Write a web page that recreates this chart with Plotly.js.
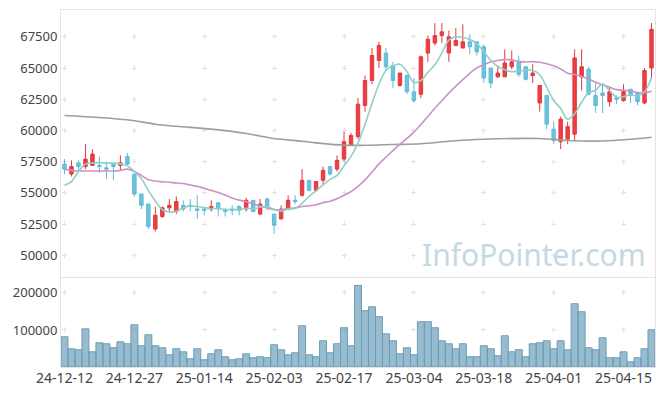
<!DOCTYPE html>
<html><head><meta charset="utf-8">
<script src="https://cdn.plot.ly/plotly-3.0.1.min.js"></script>
<style>html,body{margin:0;padding:0;background:#fff;}#chart{width:665px;height:396px;}</style>
</head><body><div id="chart"></div>
<script>
const dates = ['24-12-12','24-12-13','24-12-16','24-12-17','24-12-18','24-12-19','24-12-20','24-12-23','24-12-24','24-12-26',
'24-12-27','24-12-30','25-01-02','25-01-03','25-01-06','25-01-07','25-01-08','25-01-09','25-01-10','25-01-13',
'25-01-14','25-01-15','25-01-16','25-01-17','25-01-20','25-01-21','25-01-22','25-01-23','25-01-24','25-01-31',
'25-02-03','25-02-04','25-02-05','25-02-06','25-02-07','25-02-10','25-02-11','25-02-12','25-02-13','25-02-14',
'25-02-17','25-02-18','25-02-19','25-02-20','25-02-21','25-02-24','25-02-25','25-02-26','25-02-27','25-02-28',
'25-03-04','25-03-05','25-03-06','25-03-07','25-03-10','25-03-11','25-03-12','25-03-13','25-03-14','25-03-17',
'25-03-18','25-03-19','25-03-20','25-03-21','25-03-24','25-03-25','25-03-26','25-03-27','25-03-28','25-03-31',
'25-04-01','25-04-02','25-04-03','25-04-04','25-04-07','25-04-08','25-04-09','25-04-10','25-04-11','25-04-14',
'25-04-15','25-04-16','25-04-17','25-04-18','25-04-21'];

const openP = [57300,56500,57400,57100,57200,57200,57000,57300,57200,57900,
56500,54900,54100,52100,53100,53800,53500,54000,54000,53700,
53700,53700,54200,53600,53700,53900,53700,54400,53300,54500,
53300,52900,53700,54400,54800,56000,55200,56000,57100,56900,
57700,58800,59500,62000,64000,65600,66200,65200,63600,64400,
63100,62900,66200,67000,67600,66200,66800,66600,67100,67100,
66700,65000,64300,64300,65100,65500,65100,64400,62200,62800,
60100,59100,59300,59700,64300,64900,62800,63000,62300,62600,
62400,63300,63000,62200,65000];

const highP = [57700,57600,57600,58900,58500,57900,57500,57300,58000,58200,
56500,54900,54100,53900,53900,54500,54700,54400,54500,54800,
53900,54400,54200,53800,54000,54000,54600,54400,54500,54600,
53300,54000,54800,54800,56900,56000,55900,57100,57100,58000,
59900,59800,62600,64400,66600,67100,66600,65500,64600,64500,
64200,66000,67600,68600,68600,68000,68200,68500,67700,67100,
66900,65000,65200,66500,66400,66000,65100,65300,63600,62800,
60700,61100,60700,66500,66500,65100,63900,63800,63500,62800,
63700,63300,63000,65000,68600];

const lowP = [56500,56300,56700,56900,57200,56600,56100,56000,56800,57200,
54700,53700,52100,51900,53000,53500,53300,53500,53500,52900,
53200,53500,53100,53100,53200,53200,53500,53500,53200,53600,
51700,52900,53600,54100,54700,55100,55100,55700,56400,56700,
57500,58800,59300,61500,63700,65000,64800,63400,63500,62900,
62200,62600,65500,66800,67000,65500,66800,66600,66100,66000,
63800,63400,64200,64300,64900,64300,64000,63800,61500,60100,
58900,58500,58900,59200,63200,62800,61400,61400,61900,62100,
62300,62200,62000,62100,64200];

const closeP = [56900,57100,57100,57700,58100,57100,56900,57100,57400,57300,
54900,54000,52300,53200,53800,54000,54300,53700,53900,53600,
53600,53900,53700,53500,53600,53600,54400,53500,54100,53900,
52400,53700,54400,54300,56000,55200,55900,56800,56500,57600,
59100,59600,62100,64000,66000,66800,65100,64000,64600,63100,
62400,65900,67300,67600,67900,67500,67200,67100,66700,66300,
64200,63800,64600,65400,65500,64500,64100,64600,63600,60500,
59200,60900,60300,65800,65100,62900,62000,62800,63100,62500,
63100,62800,62300,64800,68100];

const volume = [81600,49200,46500,103000,41000,65400,62700,51900,68100,62700,
114000,57300,87000,57300,51900,33000,49200,41000,22200,49200,
19500,35700,46500,27600,19500,22200,35700,24900,27600,24900,
60000,46500,33000,38400,111400,33000,27600,70800,38400,62700,
106000,57300,220300,152000,162700,135700,89700,70800,35700,51900,
33000,122200,122200,106000,70800,62700,49200,62700,27600,27600,
57300,49200,30300,84300,41000,46500,27600,62700,65400,70800,
49200,70800,46500,170800,149200,51900,46500,78900,24900,24900,
41000,14000,24900,49200,100500];

const ma5 = [55600,55900,56700,57300,57380,57420,57380,57380,57320,57160,
56720,56140,55180,54340,53640,53460,53520,53800,53940,53900,
53820,53740,53740,53660,53660,53660,53760,53720,53840,53900,
53660,53520,53700,53740,54160,54720,55160,55640,56080,56400,
57180,57920,58980,60480,62160,63700,64800,65180,65300,64720,
63840,64000,64660,65260,66220,67240,67500,67460,67280,66960,
66300,65620,65120,64860,64700,64760,64820,64820,64460,63460,
62400,61760,60900,61340,62260,63000,63220,63720,63180,62660,
62700,62860,62760,63100,64220];

const ma20 = [56900,56800,56750,56750,56750,56750,56750,56750,56800,56900,
56700,56400,56050,55950,55880,55850,55780,55750,55620,55520,
55355,55195,55025,54815,54590,54415,54290,54110,53945,53775,
53650,53635,53740,53795,53905,53965,54045,54200,54330,54530,
54805,55090,55510,56035,56655,57315,57850,58375,58900,59360,
59860,60470,61115,61780,62375,62990,63555,64070,64580,65015,
65270,65480,65605,65675,65650,65535,65485,65515,65465,65335,
65175,64925,64575,64485,64345,64115,63855,63640,63460,63270,
63215,63165,63045,63015,63145];

const maLongDates = ['24-12-12','24-12-26','25-01-03','25-01-08','25-01-15','25-01-22','25-02-03','25-02-07','25-02-11','25-02-17',
'25-02-20','25-02-26','25-03-05','25-03-11','25-03-18','25-03-28','25-04-03','25-04-10','25-04-16','25-04-21'];
const maLong = [61200,60850,60500,60330,60100,59750,59350,59130,59000,58810,
58810,58870,58930,59130,59290,59350,59190,59150,59290,59450];

const priceTicks = [50000,52500,55000,57500,60000,62500,65000,67500];
const volumeTicks = [100000,200000];
const dateTicks = ['24-12-12','24-12-27','25-01-14','25-02-03','25-02-17','25-03-04','25-03-18','25-04-01','25-04-15'];

const traces = [
  {type:'candlestick', x:dates, open:openP, high:highP, low:lowP, close:closeP, xaxis:'x', yaxis:'y',
   increasing:{line:{color:'#e3383d', width:1}, fillcolor:'#ee3e43'},
   decreasing:{line:{color:'#5fbbd5', width:1}, fillcolor:'#6cc4dc'},
   hoverinfo:'skip'},
  {type:'scatter', mode:'lines', x:maLongDates, y:maLong, xaxis:'x', yaxis:'y',
   line:{color:'#9e9e9e', width:1.6, shape:'spline'}, hoverinfo:'skip'},
  {type:'scatter', mode:'lines', x:dates, y:ma20, xaxis:'x', yaxis:'y',
   line:{color:'#cc92c4', width:1.6, shape:'spline'}, hoverinfo:'skip'},
  {type:'scatter', mode:'lines', x:dates, y:ma5, xaxis:'x', yaxis:'y',
   line:{color:'#92cec7', width:1.6, shape:'spline'}, hoverinfo:'skip'},
  {type:'bar', x:dates, y:volume, xaxis:'x2', yaxis:'y2',
   marker:{color:'rgba(112,162,188,0.72)', line:{color:'#6d9cb3', width:1}}, hoverinfo:'skip'}
];

const gridC = '#e2e2e2';
const lineC = '#e4e4e4';
const layout = {
  width:665, height:396,
  margin:{l:61, r:10, t:10, b:29},
  paper_bgcolor:'#ffffff', plot_bgcolor:'#ffffff',
  showlegend:false,
  font:{family:'Noto Sans, sans-serif', size:13, color:'#444'},
  bargap:0,
  xaxis:{type:'category', domain:[0,1], anchor:'y', range:[-0.5,84.5], rangeslider:{visible:false},
    showticklabels:false, tickvals:dateTicks, ticks:'', showgrid:true, gridcolor:gridC, gridwidth:1,
    griddash:'0px,24.3px,5px,1.89px', showline:true, linecolor:lineC, mirror:true, zeroline:false},
  yaxis:{domain:[0.252,1], anchor:'x', range:[48250,69650], tickvals:priceTicks, tickformat:'d',
    showgrid:true, gridcolor:gridC, gridwidth:1, griddash:'0px,0.99px,5px,63.89px',
    showline:true, linecolor:lineC, mirror:true, zeroline:false, ticks:''},
  xaxis2:{type:'category', domain:[0,1], anchor:'y2', matches:'x', range:[-0.5,84.5], tickvals:dateTicks, ticks:'',
    tickfont:{size:14}, ticklabelstandoff:-2,
    showgrid:true, gridcolor:gridC, gridwidth:1, griddash:'0px,12.3px,5px,19.74px',
    showline:true, linecolor:lineC, mirror:true, zeroline:false},
  yaxis2:{domain:[0,0.249], anchor:'x2', range:[0,240000], tickvals:volumeTicks, tickformat:'d',
    showgrid:true, gridcolor:gridC, gridwidth:1, griddash:'0px,0.99px,5px,63.89px',
    showline:true, linecolor:lineC, mirror:true, zeroline:false, ticks:''},
  annotations:[{text:'InfoPointer.com', xref:'paper', yref:'paper', x:0.988, y:0.316,
    xanchor:'right', yanchor:'middle', showarrow:false,
    font:{family:'Noto Sans, sans-serif', size:30, color:'#c6d8e1'}}]
};

Plotly.newPlot('chart', traces, layout, {displayModeBar:false, staticPlot:true});
</script>
</body></html>
